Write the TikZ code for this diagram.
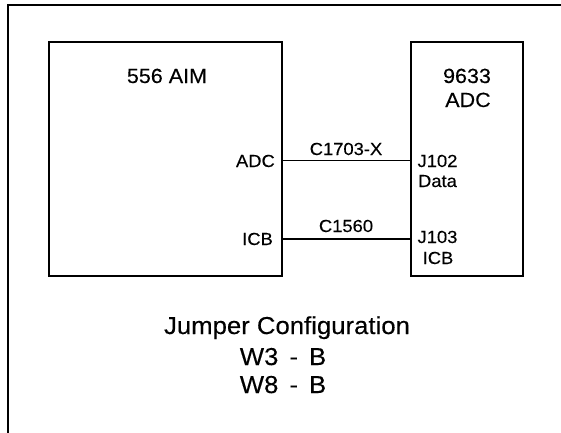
\documentclass[tikz,border=0pt]{standalone}
\usepackage{fontspec}
\setmainfont{Liberation Sans}[FakeStretch=1.05, FakeBold=0.25]
\begin{document}
\begin{tikzpicture}[x=1pt,y=1pt,
  box/.style={draw, line width=2.6pt, rectangle, inner sep=0pt},
  conn/.style={line width=1.8pt},
  outer/.style={line width=2.8pt},
  small/.style={font=\fontsize{17.5}{20}\selectfont, inner sep=0pt},
  big/.style={font=\fontsize{20.5}{24}\selectfont, inner sep=0pt},
  jump/.style={font=\fontsize{24.5}{28}\selectfont, inner sep=0pt}]
\useasboundingbox (0,0) rectangle (561,-432);
\clip (0,0) rectangle (561,-432);
% outer frame (cut off at right and bottom)
\draw[outer] (8,-450) -- (8,-5) -- (580,-5);
% boxes
\node[box, minimum width=233pt, minimum height=234pt] (aim) at (165.5,-159) {};
\node[box, minimum width=112pt, minimum height=234pt] (adc) at (467,-159) {};
% titles
\node[big, anchor=base] (aimt) at (167,-83) {556 AIM};
\node[big, anchor=base] (adct1) at (467,-83) {9633};
\node[big, anchor=base] (adct2) at (468,-107) {ADC};
% port labels
\node[small, anchor=base east] (padc) at (275,-167) {ADC};
\node[small, anchor=base east] (picb) at (273,-245) {ICB};
\node[small, anchor=base] (j102) at (437.5,-167) {J102};
\node[small, anchor=base] (data) at (437.5,-187) {Data};
\node[small, anchor=base] (j103) at (437.5,-243) {J103};
\node[small, anchor=base] (jicb) at (438,-264) {ICB};
% connectors
\coordinate (y1) at (0,-160.5);
\coordinate (y2) at (0,-239);
\draw[conn] (aim.east |- y1) -- (adc.west |- y1);
\draw[conn] (aim.east |- y2) -- (adc.west |- y2);
\node[small, anchor=base] (c1) at (346,-155) {C1703-X};
\node[small, anchor=base] (c2) at (346,-232) {C1560};
% jumper configuration
\node[jump, anchor=base] (jc) at (287,-334) {Jumper Configuration};
\node[jump, anchor=base] (w3) at (283,-365) {W3\hspace{0.45em}-\hspace{0.45em}B};
\node[jump, anchor=base] (w8) at (283,-393) {W8\hspace{0.45em}-\hspace{0.45em}B};
\end{tikzpicture}
\end{document}
